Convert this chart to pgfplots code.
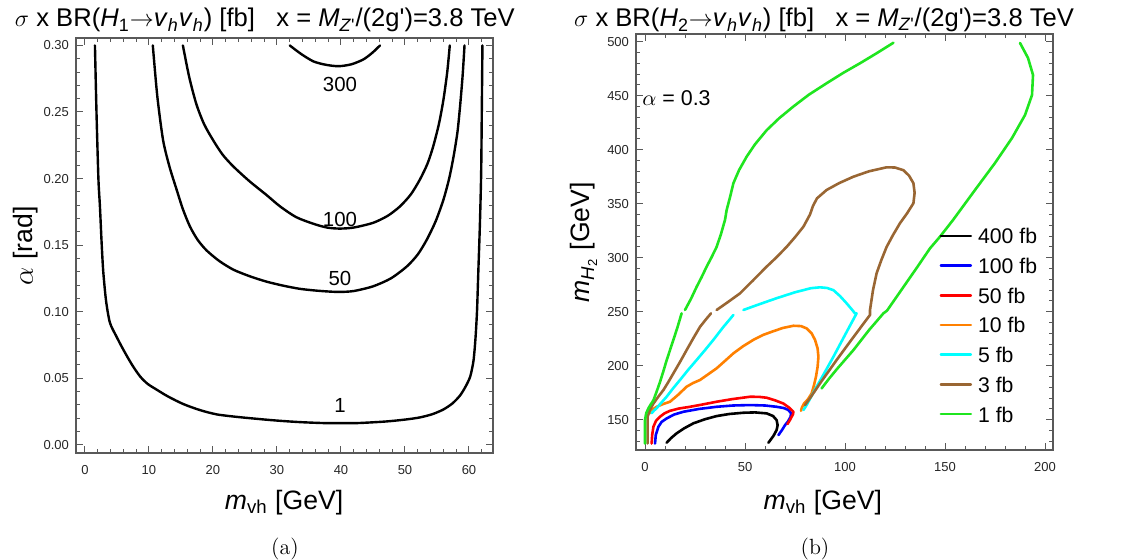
\documentclass[border=0pt]{standalone}
\usepackage{fontspec}
\usepackage{pgfplots}
\pgfplotsset{compat=1.18}
\newfontfamily\arial{Liberation Sans}
\definecolor{cgreen}{rgb}{0.12,0.9,0.12}
\definecolor{ccyan}{rgb}{0,1,1}
\definecolor{corange}{rgb}{1,0.5,0}
\definecolor{cbrown}{rgb}{0.6,0.4,0.2}
\definecolor{cframe}{gray}{0.35}
\pgfplotsset{
  mma/.style={
    scale only axis,
    width=208.5pt,
    axis line style={cframe, line width=0.6pt},
    tick style={cframe, line width=0.5pt},
    tick align=inside,
    major tick length=3.5pt, minor tick length=2pt,
    tick label style={font=\arial\fontsize{6.5}{7}\selectfont, text=black!85},
    xticklabel style={yshift=-2.5pt},
    /pgf/number format/assume math mode=true,
    label style={font=\arial\fontsize{13.3}{15}\selectfont},
    every axis title shift=0pt,
    title style={font=\arial\fontsize{12.8}{15}\selectfont, anchor=base},
    every axis plot/.append style={line join=round, line cap=round},
    clip=true,
  }
}
\begin{document}
\begin{tikzpicture}
\path[use as bounding box] (0,0) rectangle (561.5pt,-280pt);

% ---------------- (a) ----------------
\begin{axis}[mma,
  at={(38pt,-226.5pt)}, anchor=south west, height=207.5pt,
  xmin=-1.4, xmax=63.75, ymin=-0.0062, ymax=0.3056,
  xtick={0,10,20,30,40,50,60},
  minor xtick={2,4,6,8,12,14,16,18,22,24,26,28,32,34,36,38,42,44,46,48,52,54,56,58,62},
  ytick={0,0.05,0.10,0.15,0.20,0.25,0.30},
  minor ytick={0.01,0.02,0.03,0.04,0.06,0.07,0.08,0.09,0.11,0.12,0.13,0.14,0.16,0.17,0.18,0.19,0.21,0.22,0.23,0.24,0.26,0.27,0.28,0.29},
  yticklabel style={/pgf/number format/.cd, fixed, fixed zerofill, precision=2},
  scaled y ticks=false,
  title={$\sigma$ x BR(\textit{H}\textsubscript{1}$\rightarrow$\textit{v}\textsubscript{\textit{h}}\textit{v}\textsubscript{\textit{h}}) [fb]\ \ \ x = \textit{M}\textsubscript{\textit{Z}\textquotesingle}/(2g\textquotesingle)=3.8 TeV},
  title style={at={(axis description cs:0.453,1.0265)}},
  xlabel={\textit{m}\textsubscript{vh} [GeV]},
  xlabel style={at={(axis description cs:0.499,-0.135)}, anchor=base},
  ylabel={$\alpha$ [rad]},
  ylabel style={at={(axis description cs:-0.12,0.499)}, anchor=center},
]
\addplot[black, line width=1.2pt, smooth, tension=0.45] coordinates {
(1.56,0.30)(1.8,0.25)(2.1,0.20)(2.34,0.179)(2.6,0.152)(2.86,0.130)(3.3,0.108)(3.9,0.0917)(4.9,0.0815)(6.0,0.0714)(7.3,0.0605)(8.6,0.0514)(9.8,0.0457)(11.2,0.0414)(13,0.0362)(15.4,0.0305)(18,0.026)(20.6,0.0228)(24,0.0208)(28.4,0.0188)(31,0.0178)(33.6,0.0170)(36,0.0165)(38,0.0162)(39.8,0.0163)(42,0.0162)(44,0.0166)(47.1,0.0175)(50,0.0189)(52.3,0.0205)(54.3,0.023)(56,0.0265)(57.4,0.031)(58.6,0.037)(59.5,0.044)(60.2,0.0514)(60.7,0.063)(61.0,0.079)(61.25,0.10)(61.45,0.129)(61.7,0.165)(61.9,0.204)(62.0,0.25)(62.1,0.30)
};
\addplot[black, line width=1.2pt, smooth, tension=0.45] coordinates {
(10.6,0.30)(11.3,0.262)(12.2,0.229)(13.2,0.209)(14.3,0.192)(15.3,0.177)(16.4,0.164)(17.6,0.154)(19,0.146)(21,0.138)(23.2,0.1315)(25.8,0.1265)(28.4,0.1225)(31,0.1195)(33.5,0.1172)(35.7,0.116)(37.8,0.1152)(39.8,0.1148)(42,0.1155)(45,0.119)(47.8,0.125)(50.3,0.134)(52,0.143)(53.4,0.154)(54.8,0.168)(56,0.184)(56.9,0.200)(57.6,0.2168)(58.2,0.235)(58.6,0.254)(59,0.277)(59.3,0.30)
};
\addplot[black, line width=1.2pt, smooth, tension=0.45] coordinates {
(15.3,0.30)(16.3,0.276)(17.4,0.256)(18.6,0.241)(20,0.229)(21.5,0.218)(23.2,0.209)(25.7,0.198)(28.4,0.1875)(30.5,0.179)(33,0.171)(35.7,0.1660)(37.8,0.1632)(39.8,0.1624)(42,0.1632)(45,0.1667)(47.3,0.172)(49.2,0.179)(50.9,0.188)(52.3,0.199)(53.5,0.211)(54.4,0.224)(55.3,0.241)(56,0.259)(56.6,0.28)(57,0.30)
};
\addplot[black, line width=1.2pt, smooth, tension=0.45] coordinates {
(32,0.30)(33.8,0.2935)(35.7,0.288)(37.6,0.2855)(39.6,0.2844)(41.6,0.2858)(43.5,0.2895)(44.9,0.2945)(46.1,0.30)
};
\node[font=\arial\fontsize{10.2}{12}\selectfont] at (axis cs:39.84,0.2707) {300};
\node[font=\arial\fontsize{10.2}{12}\selectfont] at (axis cs:39.84,0.1692) {100};
\node[font=\arial\fontsize{10.2}{12}\selectfont] at (axis cs:39.84,0.1252) {50};
\node[font=\arial\fontsize{10.2}{12}\selectfont] at (axis cs:39.84,0.0297) {1};
\end{axis}

% ---------------- (b) ----------------
\begin{axis}[mma,
  at={(318pt,-225pt)}, anchor=south west, height=208pt,
  xmin=-4.5, xmax=204, ymin=122, ymax=507.1,
  xtick={0,50,100,150,200},
  minor xtick={10,20,30,40,60,70,80,90,110,120,130,140,160,170,180,190},
  ytick={150,200,250,300,350,400,450,500},
  minor ytick={130,140,160,170,180,190,210,220,230,240,260,270,280,290,310,320,330,340,360,370,380,390,410,420,430,440,460,470,480,490},
  title={$\sigma$ x BR(\textit{H}\textsubscript{2}$\rightarrow$\textit{v}\textsubscript{\textit{h}}\textit{v}\textsubscript{\textit{h}}) [fb]\ \ \ x = \textit{M}\textsubscript{\textit{Z}\textquotesingle}/(2g\textquotesingle)=3.8 TeV},
  title style={at={(axis description cs:0.451,1.017)}},
  xlabel={\textit{m}\textsubscript{vh} [GeV]},
  xlabel style={at={(axis description cs:0.448,-0.142)}, anchor=base},
  ylabel={\textit{m}\textsubscript{\textit{H}\textsubscript{2}} [GeV]},
  ylabel style={at={(axis description cs:-0.125,0.499)}, anchor=center},
  legend style={at={(axis description cs:0.727,0.535)}, anchor=north west, draw=none, fill=none,
    inner sep=0pt, row sep=6.85pt, font=\arial\fontsize{10.6}{12}\selectfont,
    nodes={inner sep=0pt, text height=8pt, text depth=0pt},
    /tikz/every odd column/.append style={column sep=3pt}},
  legend cell align=left,
  legend image code/.code={\draw[#1] (0pt,0pt) -- (15pt,0pt);},
]
% 400 fb
\addplot[black, line width=1.3pt] coordinates {
(10.8,128.7)(13,133)(15.8,137.4)(19.5,142)(24.2,146.7)(30,150.5)(35.8,153.4)(42,155.3)(49.2,156.5)(55,156.8)(60.8,155.9)(64,153.5)(65.8,149.7)(66.3,145)(65.8,140.5)(64.2,135)(61.7,128.7)
};
\addlegendentry{400 fb}
% 100 fb
\addplot[blue, line width=1.3pt] coordinates {
(5,128)(5.4,136)(6.7,143.5)(8.3,148)(10.8,151.2)(14.5,154.8)(19.2,157.4)(27,160)(35.8,162)(44,163.2)(52.5,163.6)(60,163.2)(65.8,162)(69.5,160.8)(71.7,159)(73,156)(72.8,152.8)(71.5,148.5)(70,145)(68.5,140.5)(66.7,135.8)
};
\addlegendentry{100 fb}
% 50 fb
\addplot[red, line width=1.3pt] coordinates {
(3.3,128)(3.6,136)(4.2,143.5)(5.5,149)(7.5,152.8)(9.8,156)(12.5,158.3)(17,160.4)(22.5,162)(29,164.2)(35.8,166.7)(44,169.2)(52.5,171.3)(57,171.2)(60.8,170.4)(65,168)(69.2,165)(72,161.3)(74.2,157.4)(74,155)(73.3,152.8)(72.4,149.5)(71.2,146)
};
\addlegendentry{50 fb}
% 10 fb
\addplot[corange, line width=1.3pt] coordinates {
(2.5,156)(3.8,159.5)(5.8,162)(9,164.5)(12.5,166.7)(16.5,173)(20.8,180.6)(24,184)(27.5,186.8)(31.5,192)(35.8,197.6)(40,204.5)(44.2,211.5)(49,218)(54.2,224)(59,228.5)(64.2,232)(69,235)(74.2,237)(78,236.7)(80.8,234.6)(83.3,230)(85,224)(86.3,216)(86.7,208.3)(86.3,199)(85.5,190)(84.5,182)(83.3,174.4)(81.5,169)(79.5,165)(78.5,161.5)(78,158.3)
};
\addlegendentry{10 fb}
% 5 fb
\addplot[ccyan, line width=1.3pt] coordinates {
(3.3,156)(4.5,158.5)(5.8,160.6)(8,165.5)(10.8,171.3)(14,179)(17.5,186.8)(21.5,196)(25.8,205.3)(30,214.5)(34.2,224)(39,235.5)(44.2,247)
};
\addlegendentry{5 fb}
\addplot[ccyan, line width=1.3pt, forget plot] coordinates {
(49.2,251.6)(55,255.5)(60.8,259.3)(65.8,262.5)(70.8,265.5)(75,268)(79.2,270)(83,271.8)(87.5,272.6)(91,272)(94.2,270)(97.5,264.5)(100.8,257.8)(103,253)(105,248.5)(105.8,248.5)(100,228.5)(94.2,208.3)(89,191)(85,178)(80.8,163.6)(79.2,159)
};
% 3 fb
\addplot[cbrown, line width=1.3pt] coordinates {
(1.3,128)(1.3,140)(1.3,152.8)(2.5,159.5)(4.2,165)(6.5,171)(9.2,177.5)(11.7,185)(14.2,193)(17.5,203.5)(20.8,214.5)(24,225)(27.5,236)(30.5,243)(33,248.5)
};
\addlegendentry{3 fb}
\addplot[cbrown, line width=1.3pt, forget plot] coordinates {
(35.8,251.6)(41.5,259)(47.5,267)(54,279)(60.8,291.7)(65.8,300.5)(70.8,310)(75,319)(79.2,328.7)(82.5,340)(84,348)(86,355)(90.8,362.7)(97,369)(104.2,375)(112,380)(120.8,383.7)(125,383.5)(129.2,381)(132,376)(134.2,369)(134.8,360)(134.2,350.4)(131,341)(127.5,332)(124,321)(120.8,310)(118,297)(115.8,285.6)(114,270)(112.5,251.6)(112.5,247)(104,226)(95.8,205.3)(88,185)(82.5,170)(80,163.6)
};
% 1 fb
\addplot[cgreen, line width=1.3pt] coordinates {
(0,128)(0,140)(0,149.7)(0.6,156)(1.7,160.6)(2.8,164)(4.2,168)(5.8,176)(7.5,185)(9.2,195)(10.8,205)(12.5,214.5)(14.2,224)(16.3,236)(18.3,248.5)
};
\addlegendentry{1 fb}
\addplot[cgreen, line width=1.3pt, forget plot] coordinates {
(20,251.6)(23,262)(25.8,273)(28.3,282)(30.8,291.7)(33.3,300.5)(35.8,310)(38,322)(40,335)(40.8,344)(42.5,356)(44.2,369)(47,381)(50.8,393.5)(55,405)(60.8,418)(67,429)(74.2,440)(82,451)(90.8,461.5)(99,471)(107.5,480)(116,489.5)(124.2,499)
};
\addplot[cgreen, line width=1.3pt, forget plot] coordinates {
(88.3,179)(92,188)(96,197)(104.2,214.5)(112,233)(119.2,248.5)(121,251)(130,275)(136,291)(142.5,308.7)(147.5,319.5)(154,334.9)(165,362.7)(175,387.7)(183.5,410.8)(190,432.1)(193.5,450.6)(194,469.2)(191.5,484.9)(187.5,498.8)
};
\node[font=\arial\fontsize{10.7}{12}\selectfont, anchor=west, inner sep=0pt] at (axis cs:-1.5,447.9) {$\alpha$ = 0.3};
\end{axis}

\node[font=\fontsize{11}{13}\selectfont, anchor=base] at (142.5pt,-277pt) {(a)};
\node[font=\fontsize{11}{13}\selectfont, anchor=base] at (407.5pt,-277pt) {(b)};
\end{tikzpicture}
\end{document}
